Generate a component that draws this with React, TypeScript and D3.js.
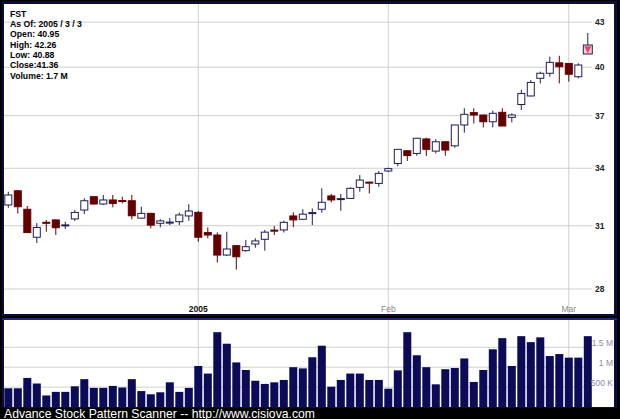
import React from 'react';
import * as d3 from 'd3';

const dates = [
  '2004-12-03','2004-12-06','2004-12-07','2004-12-08','2004-12-09','2004-12-10','2004-12-13','2004-12-14','2004-12-15','2004-12-16',
  '2004-12-17','2004-12-20','2004-12-21','2004-12-22','2004-12-23','2004-12-27','2004-12-28','2004-12-29','2004-12-30','2004-12-31',
  '2005-01-03','2005-01-04','2005-01-05','2005-01-06','2005-01-07','2005-01-10','2005-01-11','2005-01-12','2005-01-13','2005-01-14',
  '2005-01-18','2005-01-19','2005-01-20','2005-01-21','2005-01-24','2005-01-25','2005-01-26','2005-01-27','2005-01-28','2005-01-31',
  '2005-02-01','2005-02-02','2005-02-03','2005-02-04','2005-02-07','2005-02-08','2005-02-09','2005-02-10','2005-02-11','2005-02-14',
  '2005-02-15','2005-02-16','2005-02-17','2005-02-18','2005-02-22','2005-02-23','2005-02-24','2005-02-25','2005-02-28',
  '2005-03-01','2005-03-02','2005-03-03',
];

const opens = [32.05,32.79,31.83,30.43,31.17,31.29,31.02,31.34,31.79,32.48,32.10,32.31,32.28,32.27,31.38,31.62,31.12,31.15,31.20,31.49,31.67,30.66,30.54,29.57,30.02,29.78,30.10,30.33,30.78,30.79,31.49,31.32,31.63,31.83,32.52,32.34,32.39,32.97,33.25,33.18,33.85,34.26,34.97,34.82,35.64,34.95,35.48,35.25,36.45,37.18,37.04,36.64,37.20,36.90,37.67,38.19,39.29,39.61,40.28,40.24,39.39,40.95];
const highs = [32.74,32.83,32.00,31.13,31.29,31.29,31.20,31.79,32.40,32.50,32.57,32.57,32.48,32.57,31.96,31.65,31.33,31.38,31.66,32.09,31.74,30.92,30.67,30.70,30.02,30.30,30.38,30.79,30.98,31.25,31.67,31.83,31.87,32.92,32.62,32.62,32.97,33.63,33.27,33.85,34.03,35.05,35.00,35.70,35.71,35.63,35.50,36.45,37.44,37.44,37.06,37.30,37.44,37.14,38.58,39.18,39.71,40.68,40.74,40.25,40.25,42.26];
const lows = [31.91,31.61,30.64,30.15,30.70,30.54,30.84,31.24,31.58,32.08,32.05,31.93,32.13,31.32,31.36,30.87,30.92,31.03,31.03,31.25,30.21,30.38,29.22,29.52,28.89,29.73,29.92,29.78,30.54,30.66,30.92,31.29,31.03,31.65,32.19,31.75,32.39,32.74,32.65,33.00,33.79,34.11,34.40,34.69,34.67,34.82,34.69,35.14,36.00,36.54,36.31,36.31,36.38,36.60,37.34,38.17,38.97,39.39,38.97,39.08,39.29,40.88];
const closes = [32.57,31.96,30.66,30.91,31.12,30.90,31.04,31.67,32.27,32.10,32.31,32.13,32.24,31.50,31.62,31.03,31.24,31.18,31.54,31.74,30.43,30.54,29.57,29.86,29.49,29.97,30.25,30.68,30.74,31.17,31.29,31.58,31.66,32.19,32.31,32.38,32.92,33.36,33.22,33.72,33.98,35.05,34.70,35.68,35.05,35.48,35.01,36.45,37.08,37.04,36.64,37.14,36.39,37.04,38.34,39.03,39.61,40.31,40.03,39.55,40.14,41.36];
// volume in millions of shares
const volumes = [0.47,0.47,0.73,0.59,0.29,0.38,0.38,0.52,0.70,0.48,0.48,0.53,0.49,0.70,0.40,0.32,0.37,0.62,0.38,0.48,1.03,0.84,1.88,1.59,1.12,0.93,0.66,0.58,0.62,0.68,1.00,0.97,1.25,1.54,0.51,0.68,0.84,0.84,0.68,0.68,0.46,0.92,1.88,1.30,1.00,0.57,0.95,0.98,1.22,0.63,0.93,1.45,1.73,1.03,1.78,1.63,1.75,1.28,1.33,1.24,1.24,1.78];

const priceTicks = [28, 31, 34, 37, 40, 43];
const volTicks = [0.5, 1, 1.5];
const volTickLabels = ['500 K', '1 M', '1.5 M'];
const monthTickDates = ['2005-01-03', '2005-02-01', '2005-03-01'];
const monthTickLabels = ['2005', 'Feb', 'Mar'];
const legendLines = ['FST', 'As Of: 2005 / 3 / 3', 'Open: 40.95', 'High: 42.26', 'Low: 40.88', 'Close:41.36', 'Volume: 1.7 M'];
const caption = 'Advance Stock Pattern Scanner -- http://www.cisiova.com';
const markerIndex = 61;

const FONT = '"Liberation Sans", Arial, sans-serif';
const UP = '#1e1e5a';
const DOWN = '#640000';
const GRID = '#cfcfcf';
const VOLBAR = '#0b0b58';

export default function App() {
  const W = 620, H = 419;
  const plotL = 4, plotR = 592;
  const priceTop = 4, priceBot = 314;
  const volTop = 320, volBot = 407;

  const x = d3.scaleLinear().domain([0, dates.length - 1]).range([8.3, 587.8]);
  const y = d3.scaleLog().domain([28, 43]).range([289, 22.2]);
  const yv = d3.scaleLinear().domain([0, 1.5]).range([volBot, 347.3]);

  const bodyW = 7;
  const barW = 8;

  return (
    <svg width={W} height={H} style={{ position: 'absolute', left: 0, top: 0, display: 'block' }}
      xmlns="http://www.w3.org/2000/svg">
      <defs>
        <clipPath id="pclip"><rect x={plotL} y={priceTop} width={614 - plotL} height={priceBot - priceTop} /></clipPath>
        <clipPath id="vclip"><rect x={plotL} y={volTop} width={614 - plotL} height={volBot - volTop} /></clipPath>
      </defs>
      <rect x={0} y={0} width={W} height={H} fill="#000" />
      {/* frames */}
      <rect x={2} y={1} width={615} height={315} fill="#0c0c3a" />
      <rect x={plotL} y={priceTop} width={614 - plotL} height={priceBot - priceTop} fill="#fff" />
      <rect x={2} y={318} width={615} height={90} fill="#0c0c3a" />
      <line x1={2} x2={617} y1={319} y2={319} stroke="#3a3ac8" strokeWidth={1.2} />
      <rect x={plotL} y={volTop} width={614 - plotL} height={volBot - volTop} fill="#fff" />

      {/* price grid */}
      <g clipPath="url(#pclip)">
        {priceTicks.map((t) => (
          <line key={t} x1={plotL} x2={plotR} y1={y(t)} y2={y(t)} stroke={GRID} strokeWidth={1} />
        ))}
        {monthTickDates.map((d) => {
          const xi = x(dates.indexOf(d));
          return <line key={d} x1={xi} x2={xi} y1={priceTop} y2={priceBot} stroke={GRID} strokeWidth={1} />;
        })}
      </g>
      {priceTicks.map((t) => (
        <text key={t} x={595} y={y(t)} dy="0.35em" fontFamily={FONT} fontSize={8.5} fontWeight="bold" fill="#222">{t}</text>
      ))}
      {monthTickDates.map((d, i) => (
        <text key={d} x={x(dates.indexOf(d))} y={312} textAnchor="middle" fontFamily={FONT} fontSize={8.5}
          fontWeight={i === 0 ? 'bold' : 'normal'} fill={i === 0 ? '#111' : '#8a8a8a'}>{monthTickLabels[i]}</text>
      ))}

      {/* legend */}
      {legendLines.map((l, i) => (
        <text key={l} x={10} y={16.7 + i * 10.3} fontFamily={FONT} fontSize={8.7} fontWeight="bold" fill="#000">{l}</text>
      ))}

      {/* candles */}
      <g clipPath="url(#pclip)">
        {dates.map((d, i) => {
          const o = opens[i], c = closes[i], h = highs[i], l = lows[i];
          const up = c >= o;
          const col = up ? UP : DOWN;
          const xi = x(i);
          const yTop = y(Math.max(o, c));
          const yBot = y(Math.min(o, c));
          const bh = Math.max(1, yBot - yTop);
          if (i === markerIndex) {
            const cy = (yTop + yBot) / 2;
            const s = 4.5;
            return (
              <g key={d}>
                <line x1={xi} x2={xi} y1={y(h)} y2={y(l)} stroke={col} strokeWidth={1} />
                <rect x={xi - s} y={cy - s} width={2 * s} height={2 * s} fill="#f6d2d8" stroke={col} strokeWidth={1} />
                <path d={`M${xi - 3.6},${cy - 3.2} L${xi + 3.6},${cy - 3.2} L${xi},${cy + 3.8} Z`} fill="#e2485f" />
              </g>
            );
          }
          return (
            <g key={d}>
              <line x1={xi} x2={xi} y1={y(h)} y2={y(l)} stroke={col} strokeWidth={1} />
              <rect x={xi - bodyW / 2} y={yTop} width={bodyW} height={bh}
                fill={up ? '#fff' : DOWN} stroke={col} strokeWidth={1} />
            </g>
          );
        })}
      </g>

      {/* volume grid */}
      <g clipPath="url(#vclip)">
        {volTicks.map((t) => (
          <line key={t} x1={plotL} x2={plotR} y1={yv(t)} y2={yv(t)} stroke={GRID} strokeWidth={1} />
        ))}
        {monthTickDates.map((d) => {
          const xi = x(dates.indexOf(d));
          return <line key={d} x1={xi} x2={xi} y1={volTop} y2={volBot} stroke={GRID} strokeWidth={1} />;
        })}
        {dates.map((d, i) => (
          <rect key={d} x={x(i) - barW / 2} y={yv(volumes[i])} width={barW} height={volBot - yv(volumes[i])} fill={VOLBAR} />
        ))}
      </g>
      {volTicks.map((t, i) => (
        <text key={t} x={613} y={yv(t) - 1} textAnchor="end" fontFamily={FONT} fontSize={8.5} fill="#8c8ca0">{volTickLabels[i]}</text>
      ))}

      <text x={4} y={417.5} fontFamily={FONT} fontSize={12.2} fill="#fff">{caption}</text>
    </svg>
  );
}
